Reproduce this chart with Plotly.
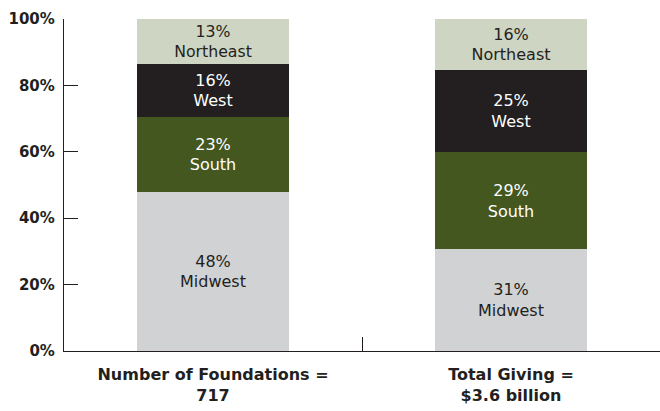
import plotly.graph_objects as go

categories = ["Number of Foundations =<br>717", "Total Giving =<br>$3.6 billion"]
regions = ["Midwest", "South", "West", "Northeast"]
# plotted shares (percent) per region, for [foundations, giving]
midwest = [47.9, 30.7]
south = [22.6, 29.2]
west = [15.9, 24.7]
northeast = [13.6, 15.4]
# printed percentage labels
midwest_lbl = ["48%", "31%"]
south_lbl = ["23%", "29%"]
west_lbl = ["16%", "25%"]
northeast_lbl = ["13%", "16%"]
y_ticks = [0, 20, 40, 60, 80, 100]

colors = {"Midwest": "#d1d2d4", "South": "#44571f", "West": "#231f20", "Northeast": "#cfd5c3"}
txtcol = {"Midwest": "#231f20", "South": "#ffffff", "West": "#ffffff", "Northeast": "#231f20"}
series = {"Midwest": (midwest, midwest_lbl), "South": (south, south_lbl),
          "West": (west, west_lbl), "Northeast": (northeast, northeast_lbl)}

FONT = "DejaVu Sans"
fig = go.Figure()
for r in regions:
    vals, lbls = series[r]
    fig.add_trace(go.Bar(
        x=[0, 1], y=vals, name=r, width=0.513,
        marker=dict(color=colors[r], line=dict(width=0)),
        text=[f"{l}<br>{r}" for l in lbls],
        textposition="inside", insidetextanchor="middle", textangle=0,
        textfont=dict(family=FONT, size=16, color=txtcol[r]),
        hoverinfo="skip",
    ))

fig.update_layout(
    barmode="stack", width=660, height=411,
    margin=dict(l=64, r=0, t=19, b=60, autoexpand=False),
    paper_bgcolor="white", plot_bgcolor="white",
    showlegend=False,
    xaxis=dict(
        range=[-0.5, 1.5], tickmode="array", tickvals=[0, 1], ticktext=categories,
        ticks="", showgrid=False, zeroline=False, automargin=False,
        showline=True, linecolor="#231f20", linewidth=1.3,
        tickfont=dict(family=FONT, size=16, color="#231f20", weight="bold"),
        ticklabelstandoff=9,
        minor=dict(tickmode="array", tickvals=[0.5], ticks="inside", ticklen=14,
                   tickcolor="#231f20", tickwidth=1.3, showgrid=False),
    ),
    yaxis=dict(
        range=[0, 100], tickmode="array", tickvals=y_ticks,
        ticktext=[f"{v}%" for v in y_ticks],
        ticks="inside", ticklen=14, tickcolor="#231f20", tickwidth=1.3,
        showgrid=False, zeroline=False, automargin=False,
        showline=True, linecolor="#231f20", linewidth=1.3,
        tickfont=dict(family=FONT, size=15, color="#231f20", weight="bold"),
        ticklabelstandoff=5,
    ),
)
fig.write_html("out.html", config={"displayModeBar": False},
               post_script="document.body.style.margin='0';document.body.style.padding='0';")
